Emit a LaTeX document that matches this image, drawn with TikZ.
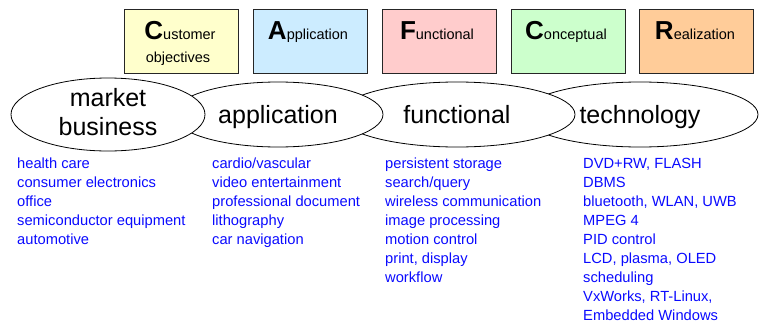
\documentclass[tikz,border=0pt]{standalone}
\usepackage{fontspec}
\setmainfont{Liberation Sans}
\usetikzlibrary{shapes.geometric}
\definecolor{itemblue}{RGB}{10,10,255}
\definecolor{cyel}{HTML}{FFFFCC}
\definecolor{cblue}{HTML}{CCECFF}
\definecolor{cpink}{HTML}{FFCCCC}
\definecolor{cgreen}{HTML}{CCFFCC}
\definecolor{corange}{HTML}{FFCC99}
\newcommand{\bigini}[1]{{\fontsize{26}{26}\selectfont\bfseries #1}}
\begin{document}
\begin{tikzpicture}[x=1pt,y=-1pt,
  vbox/.style={draw=black!85, line width=0.8pt, minimum width=114pt, minimum height=64pt, inner sep=0pt},
  boxtext/.style={anchor=base, inner sep=0pt, font=\fontsize{14.5}{17}\selectfont},
  ell/.style={ellipse, draw=black, fill=white, line width=0.8pt, inner sep=0pt, minimum height=65pt,
              font=\fontsize{25}{28.5}\selectfont},
  oneline/.style={text height=20pt, text depth=2pt},
  item/.style={anchor=base west, inner sep=0pt, text=itemblue, font=\fontsize{14.7}{19}\selectfont}]
\useasboundingbox (0,0) rectangle (760,324);

% view boxes
\node[vbox, fill=cyel]    (bC) at (181,41) {};
\node[vbox, fill=cblue]   (bA) at (310,41) {};
\node[vbox, fill=cpink]   (bF) at (439,41) {};
\node[vbox, fill=cgreen]  (bK) at (568,41) {};
\node[vbox, fill=corange] (bR) at (696.5,41) {};

\node[boxtext] (tC) at (180,39.3) {\bigini{C}ustomer};
\node[boxtext] (tC2) at (178,62) {objectives};
\node[boxtext] (tA) at (308,39.3) {\bigini{A}pplication};
\node[boxtext] (tF) at (437,39.3) {\bigini{F}unctional};
\node[boxtext] (tK) at (566,39.3) {\bigini{C}onceptual};
\node[boxtext] (tR) at (695,39.3) {\bigini{R}ealization};

% ellipses, drawn right to left so the left one lies on top
\node[ell, oneline, minimum width=236pt] (tech) at (640,114.5) {technology};
\node[ell, oneline, minimum width=236pt] (func) at (457,114.5) {functional};
\node[ell, oneline, minimum width=210pt] (appl) at (278,114.5) {application};
\node[ell, align=center, minimum width=194pt] (mark) at (108,114.5) {market\\business\rule[-5pt]{0pt}{0pt}};

% lists
\foreach \t [count=\i] in {health care, consumer electronics, office, semiconductor equipment, automotive}
  \node[item] (m\i) at (17,{149+19*\i}) {\t};
\foreach \t [count=\i] in {cardio/vascular, video entertainment, professional document, lithography, car navigation}
  \node[item] (a\i) at (212,{149+19*\i}) {\t};
\foreach \t [count=\i] in {persistent storage, search/query, wireless communication, image processing, motion control, {print, display}, workflow}
  \node[item] (f\i) at (385,{149+19*\i}) {\t};
\foreach \t [count=\i] in {{DVD+RW, FLASH}, DBMS, {bluetooth, WLAN, UWB}, MPEG 4, PID control, {LCD, plasma, OLED}, scheduling, {VxWorks, RT-Linux,}, Embedded Windows}
  \node[item] (t\i) at (583,{149+19*\i}) {\t};
\end{tikzpicture}
\end{document}
